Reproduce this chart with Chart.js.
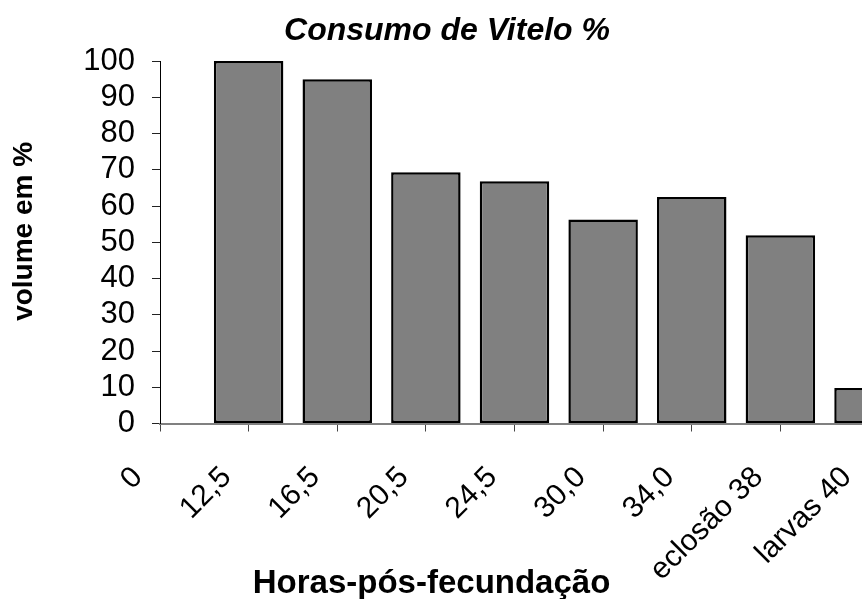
<!DOCTYPE html>
<html>
<head>
<meta charset="utf-8">
<script src="https://cdn.jsdelivr.net/npm/chart.js@4/dist/chart.umd.min.js"></script>
<style>
  html, body { margin: 0; padding: 0; background: #fff; overflow: hidden; }
  #wrap { width: 929px; height: 599px; position: relative; }
</style>
</head>
<body>
<div id="wrap"><canvas id="c"></canvas></div>
<script>
// Yolk consumption (%) by hours after fertilisation
const categories = ['0', '12,5', '16,5', '20,5', '24,5', '30,0', '34,0', 'eclosão 38', 'larvas 40'];
const volumePct = [null, 100, 95, 69.3, 66.8, 56.3, 62.5, 51.9, 9.8];
const yTicks = [0, 10, 20, 30, 40, 50, 60, 70, 80, 90, 100];

const chartTitle = 'Consumo de Vitelo %';
const xTitle = 'Horas-pós-fecundação';
const yTitle = 'volume em %';

const FONT = "'Liberation Sans', Arial, Helvetica, sans-serif";
Chart.defaults.font.family = FONT;
Chart.defaults.color = '#000';

// Axis titles drawn relative to the chart area
const axisTitles = {
  id: 'axisTitles',
  afterDraw(chart) {
    const { ctx, chartArea: a } = chart;
    ctx.save();
    ctx.fillStyle = '#000';
    ctx.font = "bold 33px " + FONT;
    ctx.textAlign = 'center';
    ctx.textBaseline = 'alphabetic';
    ctx.fillText(xTitle, a.left + (a.right - a.left) * 0.383, 592.5);

    ctx.font = "bold 28px " + FONT;
    ctx.translate(31.5, a.top + (a.bottom - a.top) * 0.47);
    ctx.rotate(-Math.PI / 2);
    ctx.fillText(yTitle, 0, 0);
    ctx.restore();
  }
};

new Chart(document.getElementById('c'), {
  type: 'bar',
  data: {
    labels: categories,
    datasets: [{
      data: volumePct,
      backgroundColor: '#808080',
      borderColor: '#000',
      borderWidth: 2.5,
      borderSkipped: false,
      barPercentage: 0.784,
      categoryPercentage: 1
    }]
  },
  options: {
    responsive: true,
    maintainAspectRatio: false,
    animation: false,
    layout: { padding: { left: 25, right: 60, top: 0, bottom: 0 } },
    plugins: {
      legend: { display: false },
      tooltip: { enabled: false },
      title: {
        display: true,
        text: chartTitle,
        font: { size: 32, weight: 'bold', style: 'italic', family: FONT, lineHeight: 1.2 },
        color: '#000',
        padding: { top: 11.5, bottom: 11.1 }
      }
    },
    scales: {
      x: {
        type: 'category',
        offset: false,
        afterFit(s) { s.height = 175.5; },
        grid: {
          offset: false,
          drawOnChartArea: false,
          drawTicks: true,
          tickLength: 8,
          tickColor: '#444',
          tickWidth: 1
        },
        border: { display: true, color: '#808080', width: 2 },
        ticks: {
          autoSkip: false,
          maxRotation: 45,
          minRotation: 45,
          labelOffset: -22,
          padding: 28.3,
          font: { size: 30 },
          color: '#000'
        }
      },
      y: {
        min: 0,
        max: 100,
        afterFit(s) { s.width = 135; },
        afterBuildTicks(s) { s.ticks = yTicks.map(v => ({ value: v })); },
        grid: {
          drawOnChartArea: false,
          drawTicks: true,
          tickLength: 8,
          tickColor: '#222',
          tickWidth: 1
        },
        border: { display: true, color: '#000', width: 1 },
        ticks: {
          autoSkip: false,
          padding: 17,
          font: { size: 31 },
          color: '#000'
        }
      }
    }
  },
  plugins: [axisTitles]
});
</script>
</body>
</html>
